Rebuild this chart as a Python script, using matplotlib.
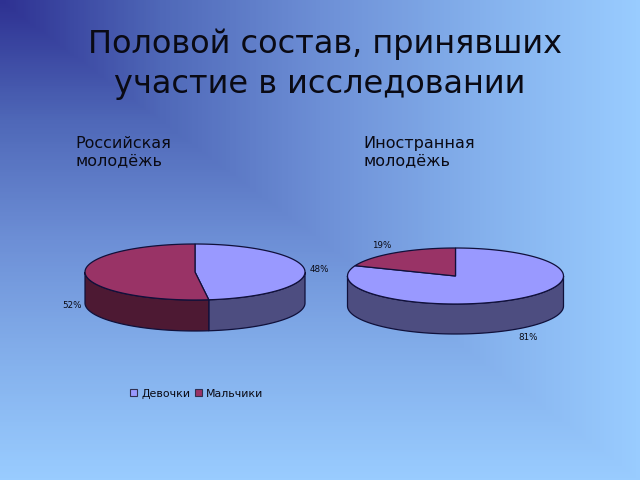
import numpy as np
import matplotlib
matplotlib.use("Agg")
import matplotlib.pyplot as plt
from matplotlib.colors import LinearSegmentedColormap
from matplotlib.patches import Polygon, Rectangle

# --- data ---
title_lines = ["Половой состав, принявших", "участие в исследовании"]
group_names = ["Российская\nмолодёжь", "Иностранная\nмолодёжь"]
categories = ["Девочки", "Мальчики"]
russian = [48, 52]
foreign = [81, 19]

# --- style ---
TOP_COLORS = ["#9999ff", "#993366"]
WALL_COLORS = ["#4d4d80", "#4d1933"]
EDGE = "#10103a"
TEXT = "#0a0a14"

fig = plt.figure(figsize=(6.4, 4.8), dpi=100)
ax = fig.add_axes([0, 0, 1, 1])
ax.set_xlim(0, 640)
ax.set_ylim(480, 0)
ax.axis("off")

# corner gradient of the slide background
gx, gy = np.meshgrid(np.linspace(0, 1, 320), np.linspace(0, 1, 240))
shade = np.maximum(gx, gy)
cmap = LinearSegmentedColormap.from_list(
    "slide", ["#2e3192", "#4f68b8", "#6d8fd6", "#84b0ec", "#99ccff"])
ax.imshow(shade, cmap=cmap, extent=(0, 640, 480, 0), aspect="auto", zorder=0)


def rim(cx, cy, rx, ry, a, b):
    # angles in degrees, clockwise from 12 o'clock
    t = np.radians(np.linspace(a, b, 120))
    return np.column_stack([cx + rx * np.sin(t), cy - ry * np.cos(t)])


def pie3d(values, cx, cy, rx, ry, depth):
    start = 0.0
    total = sum(values)
    for i, v in enumerate(values):
        end = start + 360.0 * v / total
        # side wall only on the front half
        a, b = max(start, 90), min(end, 270)
        if b > a:
            top = rim(cx, cy, rx, ry, a, b)
            low = top[::-1] + [0, depth]
            ax.add_patch(Polygon(np.vstack([top, low]), closed=True,
                                 fc=WALL_COLORS[i], ec=EDGE, lw=0.9, zorder=2))
        edge = rim(cx, cy, rx, ry, start, end)
        ax.add_patch(Polygon(np.vstack([[cx, cy], edge]), closed=True,
                             fc=TOP_COLORS[i], ec=EDGE, lw=0.9, zorder=3))
        start = end


pie3d(russian, 195, 272, 110, 28, 31)
pie3d(foreign, 455.5, 276, 108, 28, 30)

ax.text(325.5, 44.5, title_lines[0], ha="center", va="center", fontsize=23, color=TEXT)
ax.text(320, 84.5, title_lines[1], ha="center", va="center", fontsize=23, color=TEXT)
ax.text(75.5, 152, group_names[0], ha="left", va="center", fontsize=11.5,
        color=TEXT, linespacing=1.15)
ax.text(363.5, 152, group_names[1], ha="left", va="center", fontsize=11.5,
        color=TEXT, linespacing=1.15)

# percent labels
ax.text(319, 270, f"{russian[0]}%", ha="center", va="center", fontsize=6.3, color=TEXT)
ax.text(72, 305, f"{russian[1]}%", ha="center", va="center", fontsize=6.3, color=TEXT)
ax.text(528, 337, f"{foreign[0]}%", ha="center", va="center", fontsize=6.3, color=TEXT)
ax.text(382, 246, f"{foreign[1]}%", ha="center", va="center", fontsize=6.3, color=TEXT)

# legend
ax.add_patch(Rectangle((130, 389), 7, 7, fc=TOP_COLORS[0], ec="#303050", lw=0.8, zorder=3))
ax.text(141, 397, categories[0], ha="left", va="baseline", fontsize=7.9, color=TEXT)
ax.add_patch(Rectangle((195, 389), 7, 7, fc=TOP_COLORS[1], ec="#303050", lw=0.8, zorder=3))
ax.text(206, 397, categories[1], ha="left", va="baseline", fontsize=7.9, color=TEXT)

fig.savefig("out.png", dpi=100)
